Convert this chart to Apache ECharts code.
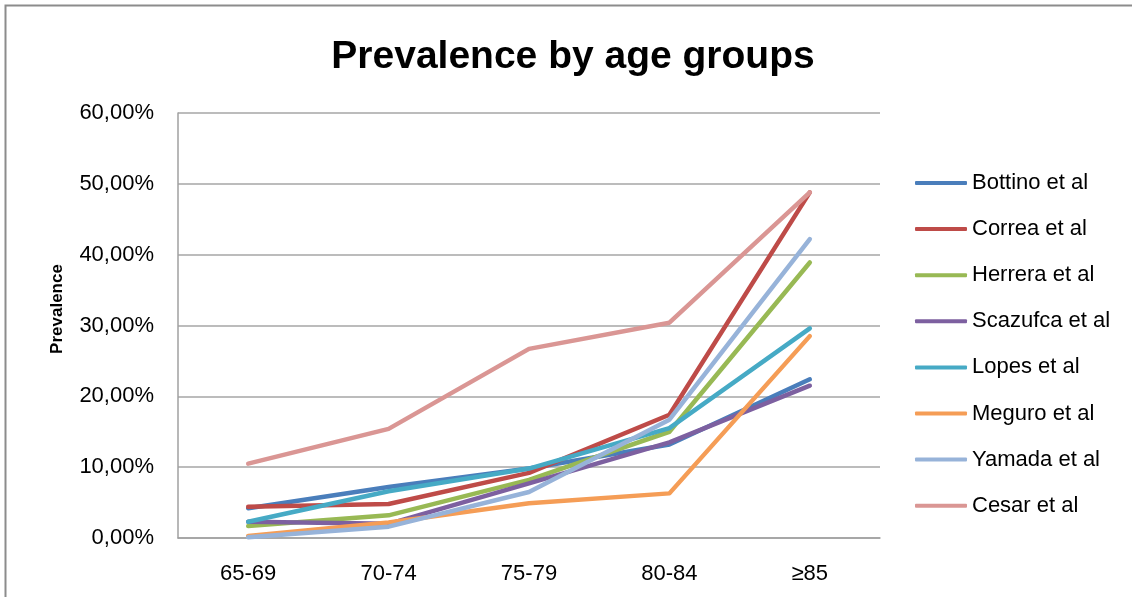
<!DOCTYPE html>
<html>
<head>
<meta charset="utf-8">
<script src="https://cdn.jsdelivr.net/npm/echarts@6/dist/echarts.min.js"></script>
<style>
html,body{margin:0;padding:0;background:#fff;}
#chart{width:1132px;height:597px;}
</style>
</head>
<body>
<div id="chart"></div>
<script>
var categories = ['65-69', '70-74', '75-79', '80-84', '≥85'];
var seriesNames = ['Bottino et al', 'Correa et al', 'Herrera et al', 'Scazufca et al', 'Lopes et al', 'Meguro et al', 'Yamada et al', 'Cesar et al'];
var bottino  = [4.2, 7.2, 9.8, 13.2, 22.4];
var correa   = [4.4, 4.8, 9.2, 17.4, 48.8];
var herrera  = [1.7, 3.2, 8.2, 15.0, 38.9];
var scazufca = [2.3, 2.0, 7.7, 13.5, 21.5];
var lopes    = [2.3, 6.6, 9.8, 15.5, 29.6];
var meguro   = [0.3, 2.2, 4.9, 6.3, 28.5];
var yamada   = [0.1, 1.6, 6.5, 16.7, 42.2];
var cesar    = [10.5, 15.4, 26.7, 30.4, 48.8];
var yTicks = [0, 10, 20, 30, 40, 50, 60];

var allData = [bottino, correa, herrera, scazufca, lopes, meguro, yamada, cesar];
var colors = ['#4A7EBB', '#BE4B48', '#98B954', '#7D60A0', '#46AAC5', '#F59D56', '#97B3D9', '#DA9694'];
var FONT = '"Liberation Sans", Arial, sans-serif';

var chart = echarts.init(document.getElementById('chart'));
chart.setOption({
  backgroundColor: '#fff',
  animation: false,
  color: colors,
  title: {
    text: 'Prevalence by age groups',
    left: 568,
    textAlign: 'center',
    top: 33,
    textStyle: { fontFamily: FONT, fontWeight: 'bold', fontSize: 39, color: '#000' }
  },
  graphic: [
    { type: 'rect', shape: { x: 5.5, y: 5.5, width: 1160, height: 620 }, style: { fill: 'none', stroke: '#8c8c8c', lineWidth: 2 }, silent: true },
    { type: 'text', x: 57, y: 309, rotation: Math.PI / 2,
      style: { text: 'Prevalence', fontFamily: FONT, fontWeight: 'bold', fontSize: 17, fill: '#000', textAlign: 'center', textVerticalAlign: 'middle' } }
  ],
  legend: {
    orient: 'vertical',
    left: 910,
    top: 166,
    itemWidth: 52,
    itemHeight: 4,
    itemGap: 22.1,
    icon: 'roundRect',
    data: seriesNames,
    textStyle: { fontFamily: FONT, fontSize: 22, color: '#000', lineHeight: 24 }
  },
  grid: { left: 178, top: 113, width: 702, height: 425 },
  xAxis: {
    type: 'category',
    data: categories,
    boundaryGap: true,
    axisLine: { lineStyle: { color: '#a0a0a0', width: 1.5 } },
    axisTick: { show: false },
    axisLabel: { fontFamily: FONT, fontSize: 22, color: '#000', margin: 25 }
  },
  yAxis: {
    type: 'value',
    min: 0,
    max: 60,
    interval: 10,
    axisLine: { show: true, lineStyle: { color: '#a0a0a0', width: 1.5 } },
    axisTick: { show: false },
    splitLine: { lineStyle: { color: '#a6a6a6', width: 1.5 } },
    axisLabel: {
      fontFamily: FONT, fontSize: 22, color: '#000', margin: 24,
      formatter: function (v) { return v.toFixed(2).replace('.', ',') + '%'; }
    }
  },
  series: seriesNames.map(function (name, i) {
    return {
      name: name,
      type: 'line',
      data: allData[i],
      showSymbol: false,
      symbol: 'none',
      lineStyle: { width: 4.5, color: colors[i], cap: 'round', join: 'round' },
      itemStyle: { color: colors[i] },
      z: 2 + i
    };
  })
});
</script>
</body>
</html>
